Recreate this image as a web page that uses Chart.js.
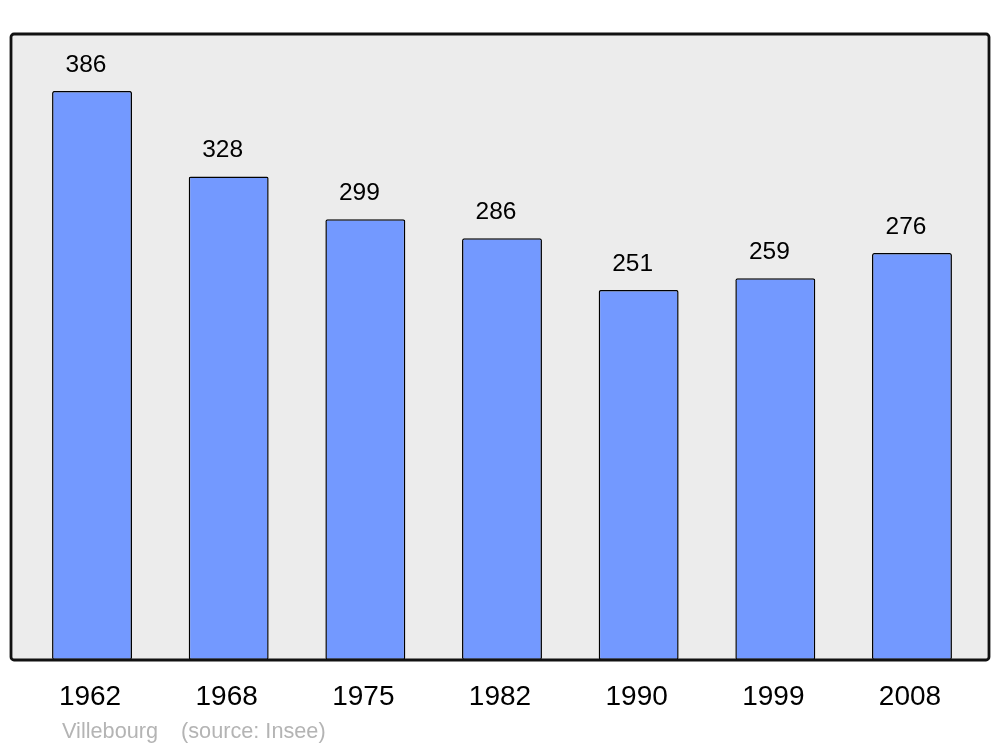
<!DOCTYPE html>
<html>
<head>
<meta charset="utf-8">
<script src="https://cdn.jsdelivr.net/npm/chart.js@4"></script>
<style>
  html, body { margin: 0; padding: 0; background: #fff; }
  #wrap { width: 1000px; height: 747px; }
</style>
</head>
<body>
<div id="wrap"><canvas id="chart" width="1000" height="747"></canvas></div>
<script>
'use strict'

const years = ['1962', '1968', '1975', '1982', '1990', '1999', '2008'];
const population = [386, 328, 299, 286, 251, 259, 276];
const yMax = 424.6;

const FONT = '"Liberation Sans", Arial, sans-serif';

// grey box behind the bars, border drawn last so it sits on top
const frame = {
  id: 'frame',
  beforeDraw(chart) {
    const c = chart.ctx;
    c.save();
    c.fillStyle = '#ececec';
    c.beginPath();
    c.roundRect(11, 34, 978, 626, 3);
    c.fill();
    c.restore();
  },
  afterDatasetsDraw(chart) {
    const c = chart.ctx;
    const meta = chart.getDatasetMeta(0);
    c.save();
    c.font = '24.5px ' + FONT;
    c.fillStyle = '#000';
    c.textAlign = 'center';
    c.textBaseline = 'alphabetic';
    meta.data.forEach((bar, i) => {
      // labels sit a little left of the bar centre in the original
      c.fillText(String(population[i]), bar.x - 6, bar.y - 19);
    });
    c.restore();
  },
  afterDraw(chart) {
    const c = chart.ctx;
    c.save();
    c.strokeStyle = '#111';
    c.lineWidth = 2.8;
    c.beginPath();
    c.roundRect(11, 34, 978, 626, 3);
    c.stroke();
    c.font = '21.7px ' + FONT;
    c.fillStyle = '#b4b4b4';
    c.textBaseline = 'alphabetic';
    c.fillText('Villebourg', 62, 738);
    c.fillText('(source: Insee)', 181, 738);
    c.restore();
  }
};

new Chart(document.getElementById('chart'), {
  type: 'bar',
  data: {
    labels: years,
    datasets: [{
      data: population,
      backgroundColor: 'rgb(115, 153, 255)',
      borderColor: '#000',
      borderWidth: 1.5,
      borderRadius: 2,
      borderSkipped: false,
      barPercentage: 0.585,
      categoryPercentage: 1
    }]
  },
  options: {
    responsive: false,
    animation: false,
    layout: {
      padding: { left: 23.7, right: 19.7, top: 34, bottom: 27 }
    },
    scales: {
      x: {
        grid: { display: false, drawTicks: false },
        border: { display: false },
        ticks: {
          color: '#000',
          padding: 20,
          labelOffset: -2,
          font: { family: FONT, size: 28 }
        },
        afterFit(scale) { scale.height = 60; }
      },
      y: {
        display: false,
        min: 0,
        max: yMax
      }
    },
    plugins: {
      legend: { display: false },
      tooltip: { enabled: false }
    }
  },
  plugins: [frame]
});
</script>
</body>
</html>
